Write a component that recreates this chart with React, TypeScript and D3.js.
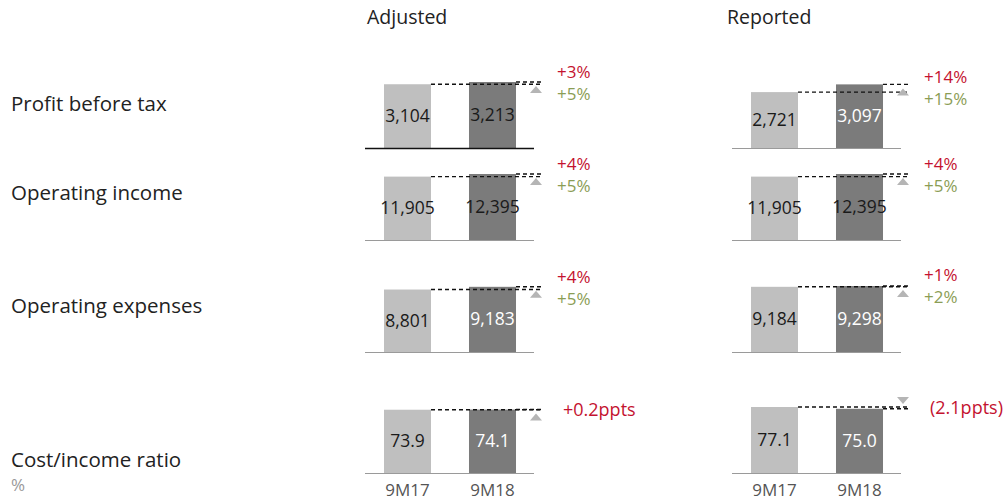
import React from "react";
import * as d3 from "d3";

// Row titles and the two periods compared in every panel
const rowLabels = ["Profit before tax", "Operating income", "Operating expenses", "Cost/income ratio"];
const rowUnits = ["", "", "", "%"];
const periods = ["9M17", "9M18"];
const panelTitles = ["Adjusted", "Reported"];

// Values per row (EUR m, ratio in %)
const adjusted9M17 = [3104, 11905, 8801, 73.9];
const adjusted9M18 = [3213, 12395, 9183, 74.1];
const reported9M17 = [2721, 11905, 9184, 77.1];
const reported9M18 = [3097, 12395, 9298, 75.0];

// Change labels: headline change and change at constant FX
const adjustedChange = ["+3%", "+4%", "+4%", "+0.2ppts"];
const adjustedChangeFx = ["+5%", "+5%", "+5%", ""];
const reportedChange = ["+14%", "+4%", "+1%", "(2.1ppts)"];
const reportedChangeFx = ["+15%", "+5%", "+2%", ""];

// Label colour on the darker 9M18 bar
const adjustedDarkLabel = ["#1a1a1a", "#1a1a1a", "#ffffff", "#ffffff"];
const reportedDarkLabel = ["#ffffff", "#1a1a1a", "#ffffff", "#ffffff"];

const W = 1003;
const H = 501;
const FONT = "'Open Sans', 'Noto Sans', sans-serif";
const RED = "#c4122f";
const GREEN = "#8b9d55";
const LIGHT = "#bfbfbf";
const DARK = "#7b7b7b";

const rowBaselines = [148, 240, 352, 473];
const rowLabelY = [111, 200, 313, 467];
const panelX = [365, 732];
const titleX = [367, 727];
const panelW = 169;
const maxBarH = 66;

const panels = [
  { title: panelTitles[0], a: adjusted9M17, b: adjusted9M18, chg: adjustedChange, fx: adjustedChangeFx, darkLabel: adjustedDarkLabel },
  { title: panelTitles[1], a: reported9M17, b: reported9M18, chg: reportedChange, fx: reportedChangeFx, darkLabel: reportedDarkLabel },
];

const fmtInt = d3.format(",");
const fmtDec = d3.format(".1f");

const x = d3.scaleBand<string>().domain(periods).range([0, panelW + 1]).paddingInner(0.447).paddingOuter(0.2235);

function Panel({ p, pi }: { p: (typeof panels)[number]; pi: number }) {
  return (
    <g transform={`translate(${panelX[pi]},0)`}>
      <text x={titleX[pi] - panelX[pi]} y={24} fontSize={19.5} fill="#222">{p.title}</text>
      {rowLabels.map((_, r) => {
        const rowMax = Math.max(adjusted9M17[r], adjusted9M18[r], reported9M17[r], reported9M18[r]);
        const y = d3.scaleLinear().domain([0, rowMax]).range([rowBaselines[r], rowBaselines[r] - maxBarH]);
        const vals = [p.a[r], p.b[r]];
        const fmt = r === 3 ? fmtDec : fmtInt;
        const bw = x.bandwidth();
        const x1 = x(periods[0])!;
        const x2 = x(periods[1])!;
        const top1 = y(vals[0]);
        const top2 = y(vals[1]);
        const lineEnd = x2 + bw + 27;
        const triX = x2 + bw + 20;
        const up = vals[1] >= vals[0];
        const upper = Math.min(top1, top2);
        const tri = up
          ? `M${triX - 6},${upper + 11}L${triX + 6},${upper + 11}L${triX},${upper + 4}Z`
          : `M${triX - 6},${upper - 10}L${triX + 6},${upper - 10}L${triX},${upper - 3}Z`;
        const mid = (top1 + top2) / 2;
        const isPpts = p.fx[r] === "";
        const axisColor = r === 0 && pi === 0 ? "#111" : "#9a9a9a";
        return (
          <g key={r}>
            {vals.map((v, i) => {
              const bx = x(periods[i])!;
              const ty = y(v);
              return (
                <g key={i}>
                  <rect x={bx} y={ty} width={bw} height={rowBaselines[r] - ty} fill={i === 0 ? LIGHT : DARK} />
                  <text
                    x={bx + bw / 2}
                    y={(ty + rowBaselines[r]) / 2 + 6}
                    textAnchor="middle"
                    fontSize={17.5}
                    fill={i === 0 ? "#1a1a1a" : p.darkLabel[r]}
                  >
                    {fmt(v)}
                  </text>
                </g>
              );
            })}
            <line x1={0} x2={panelW} y1={rowBaselines[r] + 0.5} y2={rowBaselines[r] + 0.5} stroke={axisColor} strokeWidth={r === 0 && pi === 0 ? 1.5 : 1.2} />
            <line x1={x1 + bw} x2={lineEnd} y1={top1} y2={top1} stroke="#111" strokeWidth={1.4} strokeDasharray="4,3" />
            <line x1={x2 + bw} x2={lineEnd} y1={top2} y2={top2} stroke="#111" strokeWidth={1.4} strokeDasharray="4,3" />
            <path d={tri} fill="#b5b5b5" />
            {isPpts ? (
              <text x={x2 + bw + 47} y={mid + 6} fontSize={18} fill={RED}>{p.chg[r]}</text>
            ) : (
              <>
                <text x={x2 + bw + 41} y={mid - 5} fontSize={17} fill={RED}>{p.chg[r]}</text>
                <text x={x2 + bw + 41} y={mid + 17} fontSize={17} fill={GREEN}>{p.fx[r]}</text>
              </>
            )}
            {r === 3 &&
              periods.map((c) => (
                <text key={c} x={x(c)! + bw / 2} y={496} textAnchor="middle" fontSize={17} fill="#555">
                  {c}
                </text>
              ))}
          </g>
        );
      })}
    </g>
  );
}

export default function App() {
  return (
    <svg width={W} height={H} style={{ position: "absolute", left: 0, top: 0, fontFamily: FONT }}>
      <rect width={W} height={H} fill="#fff" />
      {rowLabels.map((t, r) => (
        <g key={t}>
          <text x={11} y={rowLabelY[r]} fontSize={20.5} fill="#222">{t}</text>
          {rowUnits[r] && (
            <text x={11} y={rowLabelY[r] + 24} fontSize={17} fill="#999">{rowUnits[r]}</text>
          )}
        </g>
      ))}
      {panels.map((p, pi) => (
        <Panel key={p.title} p={p} pi={pi} />
      ))}
    </svg>
  );
}
